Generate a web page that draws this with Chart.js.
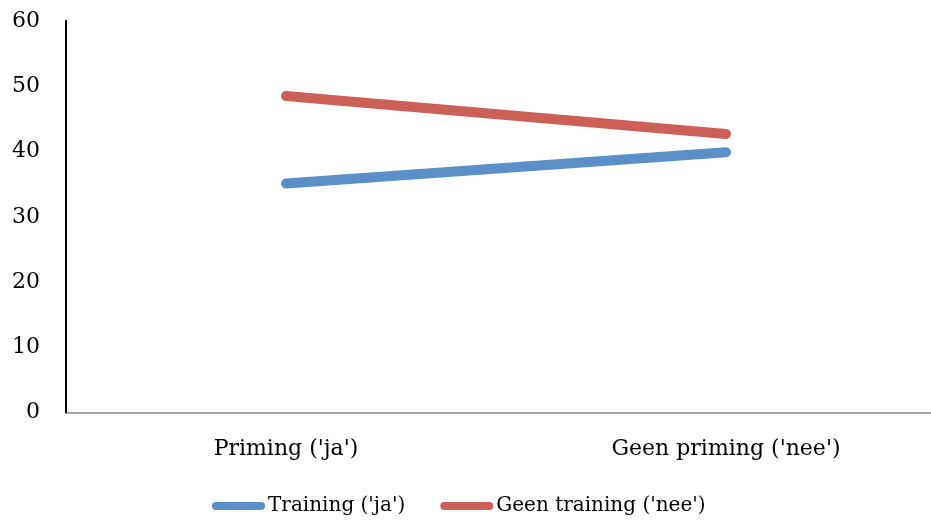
<!DOCTYPE html>
<html>
<head>
<meta charset="utf-8">
<script src="https://cdn.jsdelivr.net/npm/chart.js@4"></script>
<style>
  html, body { margin: 0; padding: 0; background: #fff; overflow: hidden; }
  #wrap { position: relative; width: 946px; height: 524px; }
</style>
</head>
<body>
<div id="wrap"><canvas id="c"></canvas></div>
<script>
// Categories and series
const categories = ["Priming ('ja')", "Geen priming ('nee')"];
const trainingJa = [35.1, 39.9];
const geenTrainingNee = [48.5, 42.7];
const seriesNames = ["Training ('ja')", "Geen training ('nee')"];
const yTicks = [0, 10, 20, 30, 40, 50, 60];

const BLUE = '#5b8fc7';
const RED = '#cc5f58';
const FONT = "'DejaVu Serif', serif";
const FONT_SIZE = 22;
const LEGEND_FONT_SIZE = 20;

// Legend drawn under the plot: a rounded line swatch followed by its label
const lineLegend = {
  id: 'lineLegend',
  afterDraw(chart) {
    const ctx = chart.ctx;
    ctx.save();
    ctx.font = LEGEND_FONT_SIZE + 'px ' + FONT;
    ctx.textBaseline = 'middle';
    const swatch = 53, gap = 3, spacing = 35, y = 506;
    let x = 212; // left edge of the legend row
    chart.data.datasets.forEach(d => {
      ctx.strokeStyle = d.borderColor;
      ctx.lineWidth = 8;
      ctx.lineCap = 'round';
      ctx.beginPath();
      ctx.moveTo(x + 4, y);
      ctx.lineTo(x + swatch - 4, y);
      ctx.stroke();
      ctx.fillStyle = '#000';
      ctx.fillText(d.label, x + swatch + gap, y);
      x += swatch + gap + ctx.measureText(d.label).width + spacing;
    });
    ctx.restore();
  }
};

new Chart(document.getElementById('c'), {
  type: 'line',
  data: {
    labels: categories,
    datasets: [
      { label: seriesNames[0], data: trainingJa, borderColor: BLUE, backgroundColor: BLUE },
      { label: seriesNames[1], data: geenTrainingNee, borderColor: RED, backgroundColor: RED }
    ]
  },
  options: {
    responsive: true,
    maintainAspectRatio: false,
    animation: false,
    devicePixelRatio: 1,
    layout: { padding: { top: 21, left: 0, right: 0, bottom: 39 } },
    elements: {
      line: { borderWidth: 10, borderCapStyle: 'round', tension: 0 },
      point: { radius: 0, hoverRadius: 0 }
    },
    plugins: {
      legend: { display: false },
      tooltip: { enabled: false }
    },
    scales: {
      x: {
        offset: true,
        grid: { display: false, drawTicks: false },
        border: { display: true, color: '#a6a6a6', width: 2 },
        ticks: { color: '#000', font: { family: FONT, size: FONT_SIZE }, padding: 23 }
      },
      y: {
        min: 0, max: 60,
        afterBuildTicks(axis) { axis.ticks = yTicks.map(v => ({ value: v })); },
        grid: { display: false, drawTicks: false },
        border: { display: true, color: '#000', width: 2 },
        ticks: { color: '#000', font: { family: FONT, size: FONT_SIZE }, padding: 26 },
        afterFit(axis) {
          axis.width = 66;
          axis.paddingTop = 0;
          axis.paddingBottom = 0;
        }
      }
    }
  },
  plugins: [lineLegend]
});
</script>
</body>
</html>
